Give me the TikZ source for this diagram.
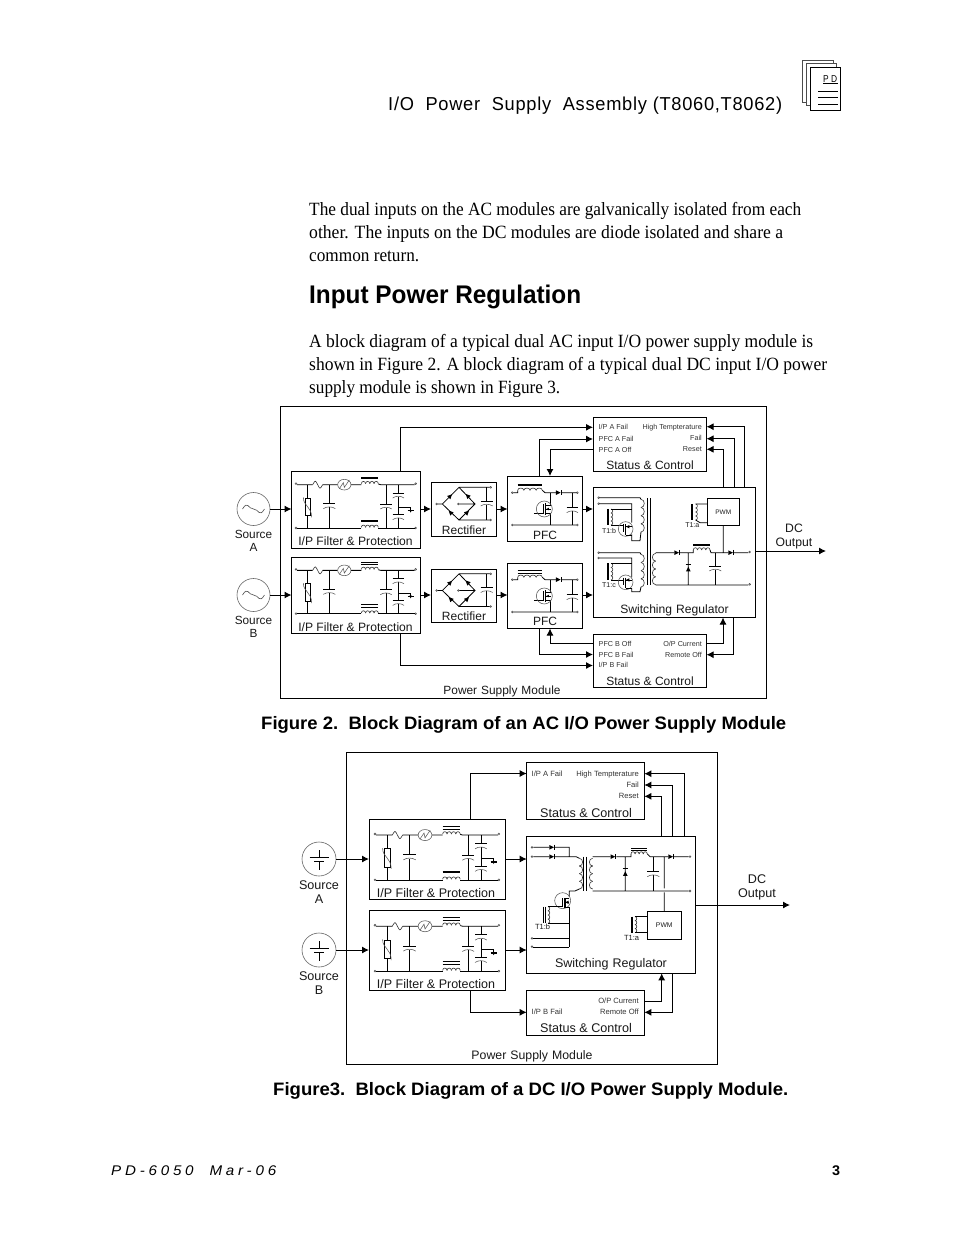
\documentclass[tikz,border=0pt]{standalone}
\usepackage{fontspec}
\usepackage{graphicx}
\setmainfont{Liberation Serif}
\newfontfamily\hv{Liberation Sans}
\usetikzlibrary{arrows.meta}
\newcommand\fs[1]{\fontsize{#1pt}{#1pt}\selectfont}
\newcommand\smsz{7.2}
% fitted line of text: name, x, baseline, width, font, text
\newcommand\tl[6]{\node[anchor=base west,inner sep=0pt] (#1) at (#2,#3) {\resizebox{#4pt}{\height}{#5#6}};}
% centred sans label: name,x,ycentre,size,text
\newcommand\lb[5]{\node[anchor=base,inner sep=0pt,text=black!90] (#1) at (#2,{#3+.36*#4}) {\hv\fs{#4}#5};}
\newcommand\lbl[4]{\node[anchor=base west,inner sep=0pt,text=black!80] (#1) at (#2,{#3+2.5}) {\hv\fs{\smsz}#4};}
\newcommand\lbr[4]{\node[anchor=base east,inner sep=0pt,text=black!80] (#1) at (#2,{#3+2.5}) {\hv\fs{\smsz}#4};}
\newcommand\bx[5]{\node[box,minimum width={(#4-#2)*1pt},minimum height={(#5-#3)*1pt}] (#1) at ({(#2+#4)/2},{(#3+#5)/2}) {};}
% components (coordinates in zoomed units)
\newcommand\term[2]{\draw[termline] (#1,#2) circle[radius=2.8];}
\newcommand\hcoil[5]{\foreach \i in {1,...,#5}{\draw[coilline] ({#1+(\i-1)*#3},#2) .. controls ({#1+(\i-1)*#3},{#2+#4}) and ({#1+\i*#3},{#2+#4}) .. ({#1+\i*#3},#2);}}
\newcommand\vcoil[5]{\foreach \i in {1,...,#5}{\draw[coilline] (#1,{#2+(\i-1)*#3}) .. controls ({#1+#4},{#2+(\i-1)*#3}) and ({#1+#4},{#2+\i*#3}) .. (#1,{#2+\i*#3});}}
\newcommand\tri[4]{\fill[black] ({#1+#3},{#2+#4}) -- ({#1-#3-#4},{#2-#4+#3}) -- ({#1-#3+#4},{#2-#4-#3}) -- cycle;}
\newcommand\capv[5]{\draw[wire] (#1,#2) -- (#1,#3) (#1-#5,#3) -- (#1+#5,#3) (#1,#3+11) -- (#1,#4);
  \draw[gline] (#1-#5,#3+15) .. controls (#1-#5/2,#3+8) and (#1+#5/2,#3+8) .. (#1+#5,#3+15);}
\newcommand\corebar[4]{\ifnum#4=1 \draw[line width=1.7pt] (#1,#3) -- (#2,#3);\else \draw[line width=.7pt] (#1,#3-5) -- (#2,#3-5) (#1,#3+2) -- (#2,#3+2);\fi}
\newcommand\hdiode[2]{\tri{#1+7}{#2}{7}{0}\draw[wire] (#1+15,#2-8) -- (#1+15,#2+8);}
\newcommand\udiode[2]{\tri{#1}{#2}{0}{-7}\draw[wire] (#1-8,#2-15) -- (#1+8,#2-15);}
% filter circuit: origin x, y, scale, top bar kind, bottom bar kind
\newcommand\filterckt[5]{\begin{scope}[shift={(#1,#2)},x=#3pt,y=-#3pt]
 \term{18}{47}\term{18}{180}\term{377}{47}\term{377}{180}
 \draw[wire] (21,50) -- (68,50) (98,50) -- (143,50) (183,50) -- (214,50) (265,48) -- (272,50) -- (374,50);
 \draw[coilline] (68,50) .. controls (76,36) and (76,36) .. (83,50) .. controls (90,64) and (90,64) .. (98,50);
 \draw[gline] (163,50) ellipse[x radius=20,y radius=16];
 \draw[gline] (148,62) -- (160,44) -- (163,58) -- (178,36);
 \hcoil{214}{47}{12.75}{-9}{4}
 \corebar{214}{265}{30}{#4}
 \draw[wire] (21,180) -- (214,180) (265,180) -- (374,180);
 \hcoil{214}{178}{12.75}{-9}{4}
 \corebar{214}{265}{158}{#5}
 \draw[wire] (53,50) -- (53,90) (53,143) -- (53,180);
 \draw[wire,line width=.9pt] (45,90) rectangle (62,143);
 \draw[gline] (40,88) .. controls (40,115) and (65,115) .. (65,148);
 \capv{118}{50}{107}{180}{18}
 \capv{288}{50}{108}{180}{17}
 \capv{325}{50}{75}{140}{17}
 \capv{325}{140}{140}{180}{17}
 \draw[wire] (325,118) -- (362,118) -- (362,128);
 \draw[line width=1.5pt] (353,128) -- (371,128);
 \tri{362}{130}{0}{4}
\end{scope}}
\newcommand\rectckt[2]{\begin{scope}[shift={(#1,#2)},x=.3333pt,y=-.3333pt]
 \term{35}{282}\term{100}{282}\term{197}{232}\term{197}{330}
 \draw[wire] (38,282) -- (52,282) (52,282) -- (102,232) -- (150,282) -- (102,330) -- (52,282) (103,282) -- (150,282) (102,232) -- (194,232) (102,330) -- (194,330);
 \capv{185}{232}{273}{330}{18}
 \tri{76}{258}{5}{-5}\tri{127}{257}{-5}{-5}\tri{76}{307}{-5}{-5}\tri{127}{307}{5}{-5}
\end{scope}}
% PFC circuit
\newcommand\pfcckt[3]{\begin{scope}[shift={(#1,#2)},x=.3333pt,y=-.3333pt]
 \term{262}{248}\term{262}{345}\term{457}{248}\term{457}{345}
 \draw[wire] (265,248) -- (278,248) -- (278,241) (352,241) -- (360,248) -- (393,248) (410,248) -- (454,248) (265,345) -- (454,345);
 \hcoil{278}{241}{18.5}{-9}{4}
 \corebar{278}{352}{226}{#3}
 \hdiode{393}{248}
 \draw[wire] (377,248) -- (377,285) -- (362,285) (362,310) -- (377,310) -- (377,345) (327,310) -- (355,310) -- (355,282);
 \draw[gline] (358,297) circle[radius=24];
 \draw[line width=1.2pt] (362,280) -- (362,315);
 \draw[wire] (362,297) -- (377,297);
 \tri{368}{297}{-4}{0}
 \capv{442}{248}{293}{345}{17}
\end{scope}}
\newcommand\mos[2]{\draw[gline] (#1,#2) circle[radius=22];
 \draw[line width=1.2pt] (#1,#2-14) -- (#1,#2+18);
 \draw[wire] (#1-6,#2-14) -- (#1-6,#2+8) (#1,#2-7) -- (#1+20,#2-7) (#1,#2+18) -- (#1+20,#2+18);
 \tri{#1+6}{#2-7}{-5}{0}}
\tikzset{
 box/.style={draw=black,line width=.85pt,inner sep=0pt,outer sep=0pt},
 wire/.style={line width=.8pt,black},
 coilline/.style={line width=.6pt,black!80},
 gline/.style={line width=.55pt,black!65},
 termline/.style={line width=.5pt,black!70},
 conn/.style={line width=1pt,black,-{Latex[length=7pt,width=7pt]}}
}
\begin{document}
\begin{tikzpicture}[x=1pt,y=-1pt]
\useasboundingbox[fill=white] (0,0) rectangle (954,1235);
% ----- header
\tl{hd}{388}{110}{394}{\hv\fs{18.7}\addfontfeature{LetterSpace=4}}{I/O\ \ Power\ \ Supply\ \ Assembly (T8060,T8062)}
\begin{scope}
 \draw[line width=.5pt,black!70,fill=white] (802,60) rectangle (833,102);
 \draw[line width=.6pt,black!70,fill=white] (806,63) rectangle (836,105);
 \draw[line width=.8pt,black,fill=white] (810,67) rectangle (840,110);
 \draw[line width=.9pt] (823,83.5) -- (838,83.5);
 \draw[line width=1pt] (818,91.5) -- (838,91.5) (818,97.5) -- (838,97.5) (818,104) -- (838,104);
 \draw[line width=1pt] (810,67.5) -- (840,67.5);
\end{scope}
\tl{pd}{823}{82}{14}{\hv\fs{10}}{P D}
% ----- body text
\tl{p1a}{309}{215}{492}{\fs{18.7}}{The dual inputs on the AC modules are galvanically isolated from each}
\tl{p1b}{309}{238}{474}{\fs{18.7}}{other. The inputs on the DC modules are diode isolated and share a}
\tl{p1c}{309}{261}{110}{\fs{18.7}}{common return.}
\tl{hh}{309}{303}{272}{\hv\bfseries\fs{25.5}}{Input Power Regulation}
\tl{p2a}{309}{347}{504}{\fs{18.7}}{A block diagram of a typical dual AC input I/O power supply module is}
\tl{p2b}{309}{370}{518}{\fs{18.7}}{shown in Figure 2. A block diagram of a typical dual DC input I/O power}
\tl{p2c}{309}{393}{251}{\fs{18.7}}{supply module is shown in Figure 3.}
% ===== Figure 2
\bx{mod2}{280}{406}{766}{698}
\bx{fa}{291.5}{471}{420.5}{548}
\bx{fb}{291.5}{557.5}{420.5}{633.5}
\bx{ra}{431}{482.5}{496.5}{536}
\bx{rb}{431}{569}{496.5}{622.5}
\bx{pa}{507.5}{476}{582.5}{541}
\bx{pb}{507.5}{563.5}{582.5}{628.5}
\bx{sw}{593}{487.5}{755.5}{617.5}
\bx{sa}{593}{417.5}{706.5}{471.5}
\bx{sb}{593}{634}{706.5}{687}
\bx{pwma}{707.3}{498.3}{739.3}{525.7}
\node[draw=black!60,line width=.6pt,circle,minimum size=33pt,inner sep=0pt] (srca) at (253.5,509) {};
\node[draw=black!60,line width=.6pt,circle,minimum size=33pt,inner sep=0pt] (srcb) at (253.5,595) {};
\foreach \n in {srca,srcb}{\draw[line width=.6pt,black!70] ([xshift=-11pt]\n.center) .. controls +(5.5,-9) and +(-5.5,0) .. (\n.center) .. controls +(5.5,0) and +(-5.5,9) .. ([xshift=11pt]\n.center);}
\lb{sa1}{253.5}{534}{11.8}{Source}\lb{sa2}{253.5}{547}{11.8}{A}
\lb{sb1}{253.5}{620}{11.8}{Source}\lb{sb2}{253.5}{633}{11.8}{B}
\filterckt{290}{468}{.3333}{1}{1}
\filterckt{290}{553.7}{.3333}{2}{2}
\lb{fal}{355.5}{541}{12.1}{I/P Filter \& Protection}
\lb{fbl}{355.5}{627}{12.1}{I/P Filter \& Protection}
\rectckt{425}{410}\rectckt{425}{496.5}
\lb{ral}{464}{530}{12}{Rectifier}\lb{rbl}{464}{616}{12}{Rectifier}
\pfcckt{425}{410}{1}\pfcckt{425}{497}{2}
\lb{pal}{545}{535}{12}{PFC}\lb{pbl}{545}{621}{12}{PFC}
\lbl{a1}{598.5}{427}{I/P A Fail}\lbl{a2}{598.5}{438.5}{PFC A Fail}\lbl{a3}{598.5}{449.5}{PFC A Off}
\lbr{a4}{702}{426.5}{High Tempterature}\lbr{a5}{702}{437.5}{Fail}\lbr{a6}{702}{448.5}{Reset}
\lb{sal}{650}{465}{12}{Status \& Control}
\lbl{b1}{598.5}{643.5}{PFC B Off}\lbl{b2}{598.5}{654.5}{PFC B Fail}\lbl{b3}{598.5}{665}{I/P B Fail}
\lbr{b4}{702}{643.5}{O/P Current}\lbr{b5}{702}{654.5}{Remote Off}
\lb{sbl}{650}{681}{12}{Status \& Control}
\lb{swl}{674.5}{609}{12.1}{Switching\,\,Regulator}
\lb{pml}{502}{690}{11.9}{Power\,\,Supply\,\,Module}
\lb{dc1}{794}{528}{12.2}{DC}\lb{dc2}{794}{542}{12.2}{Output}
% switching regulator fig 2
\begin{scope}[shift={(585,410)},x=.3333pt,y=-.3333pt]
 \term{41}{263}\term{41}{281}\term{41}{428}\term{41}{444}
 \draw[wire] (44,263) -- (165,263) -- (168,268) (44,281) -- (140,281) -- (140,338);
 \vcoil{168}{268}{24.5}{13}{4}
 \draw[wire] (168,366) -- (165,392) -- (140,392) -- (140,373);
 \draw[wire] (44,428) -- (165,428) -- (168,433) (44,444) -- (140,444) -- (140,502);
 \vcoil{168}{433}{24.5}{13}{4}
 \draw[wire] (168,531) -- (165,545) -- (140,545) -- (140,535);
 \draw[line width=.9pt] (186,265) -- (186,525) (197,265) -- (197,525);
 \vcoil{212}{430}{23.5}{-13}{4}
 \draw[wire] (212,428) -- (268,428) (285,428) -- (325,428) -- (325,420) (375,420) -- (378,428) -- (430,428) (447,428) -- (490,428) (212,525) -- (490,525) (310,428) -- (310,525) (415,428) -- (415,347);
 \term{494}{426}\term{494}{523}
 \hcoil{325}{420}{12.5}{-9}{4}
 \draw[line width=1.7pt] (325,405) -- (375,405);
 \hdiode{268}{428}\hdiode{430}{428}\udiode{310}{477}
 \capv{391}{428}{468}{525}{18}
 \draw[line width=1.7pt] (322,282) -- (322,330);
 \vcoil{332}{282}{12}{7}{4}
 \draw[wire] (332,282) -- (367,282) (332,330) -- (345,338) -- (367,338);
 % T1:b
 \draw[line width=1.7pt] (70,297) -- (70,345);
 \vcoil{78}{297}{12}{7}{4}
 \draw[wire] (78,297) -- (140,297) (78,345) -- (116,345) -- (116,350);
 \mos{122}{357}
 % T1:c
 \draw[line width=1.7pt] (70,460) -- (70,510);
 \vcoil{78}{460}{12.5}{7}{4}
 \draw[wire] (78,460) -- (140,460) (78,510) -- (116,510);
 \mos{122}{517}
\end{scope}
\lb{pw1}{723.3}{512}{6.5}{PWM}
\lb{t1a}{692.3}{525}{7}{T1:a}\lb{t1b}{609}{530.5}{7}{T1:b}\lb{t1c}{609}{585}{7}{T1:c}
% connectors fig 2
\coordinate (fat) at (400,471);\coordinate (fbb) at (400,633.5);
\coordinate (sa1p) at (593,427.3);\coordinate (sa2p) at (593,439);\coordinate (sa3p) at (593,449.3);
\coordinate (sb1p) at (593,643.5);\coordinate (sb2p) at (593,654.5);\coordinate (sb3p) at (593,665.5);
\coordinate (sa4p) at (706.5,426.7);\coordinate (sa5p) at (706.5,438.7);\coordinate (sa6p) at (706.5,449.3);
\coordinate (sb4p) at (706.5,643.5);\coordinate (sb5p) at (706.5,654.7);
\coordinate (pat) at (539.3,476);\coordinate (pbb) at (539.3,628.5);
\coordinate (pat2) at (550,476);\coordinate (pbb2) at (550,628.5);
\coordinate (swo) at (755.5,551);\coordinate (dco) at (826,551);
\coordinate (swt1) at (744.3,487.5);\coordinate (swt2) at (734,487.5);\coordinate (swt3) at (723.3,487.5);
\coordinate (swb1) at (723,617.5);\coordinate (swb2) at (733.3,617.5);
\draw[conn] (srca.east) -- (srca.east -| fa.west);
\draw[conn] (srcb.east) -- (srcb.east -| fb.west);
\draw[conn] (fa.east |- srca.east) -- (ra.west |- srca.east);
\draw[conn] (fb.east |- srcb.east) -- (rb.west |- srcb.east);
\draw[conn] (ra.east |- srca.east) -- (pa.west |- srca.east);
\draw[conn] (rb.east |- srcb.east) -- (pb.west |- srcb.east);
\draw[conn] (pa.east |- srca.east) -- (sw.west |- srca.east);
\draw[conn] (pb.east |- srcb.east) -- (sw.west |- srcb.east);
\draw[conn] (fat) |- (sa1p);
\draw[conn] (pat) |- (sa2p);
\draw[conn] (sa3p) -| (pat2);
\draw[conn] (sb1p) -| (pbb2);
\draw[conn] (pbb) |- (sb2p);
\draw[conn] (fbb) |- (sb3p);
\draw[conn] (swt1) |- (sa4p);
\draw[conn] (swt2) |- (sa5p);
\draw[conn] (swt3) |- (sa6p);
\draw[conn] (sb4p) -| (swb1);
\draw[conn] (swb2) |- (sb5p);
\draw[conn] (swo) -- (dco);
% ===== Figure 2 caption
\tl{c2}{261}{729}{525}{\hv\bfseries\fs{18}}{Figure 2.\ \ Block Diagram of an AC I/O Power Supply Module}
% ===== Figure 3
\renewcommand\smsz{7.6}
\bx{mod3}{346}{752}{717}{1064}
\bx{ga}{369}{819.3}{505}{899.3}
\bx{gb}{369}{910.7}{505}{990}
\bx{ta}{526.7}{762.7}{644.3}{819}
\bx{tb}{526.7}{990.7}{644.3}{1035.3}
\bx{sv}{526.7}{836.7}{695.7}{973.3}
\bx{pwmb}{647.7}{911.7}{681.3}{939.3}
\node[draw=black!60,line width=.6pt,circle,minimum size=34pt,inner sep=0pt] (bata) at (319,859) {};
\node[draw=black!60,line width=.6pt,circle,minimum size=34pt,inner sep=0pt] (batb) at (319,950) {};
\foreach \n in {bata,batb}{
 \draw[line width=.8pt] ([shift={(-9.5,-1.5)}]\n.center) -- ([shift={(9.5,-1.5)}]\n.center) ([shift={(-5,2.5)}]\n.center) -- ([shift={(5,2.5)}]\n.center);
 \draw[line width=.8pt] ([yshift=9pt]\n.center) -- ([shift={(0,-1.5)}]\n.center) ([shift={(0,2.5)}]\n.center) -- ([yshift=-11pt]\n.center);}
\lb{ta1}{319}{885}{12.6}{Source}\lb{ta2}{319}{899}{12.6}{A}
\lb{tb1}{319}{976}{12.6}{Source}\lb{tb2}{319}{990}{12.6}{B}
\filterckt{368.8}{817.8}{.345}{2}{1}
\filterckt{368.8}{909}{.345}{2}{2}
\lb{gal}{436}{893}{12.5}{I/P Filter \& Protection}
\lb{gbl}{436}{984}{12.5}{I/P Filter \& Protection}
\lbl{e1}{531.5}{773.5}{I/P A Fail}
\lbr{e2}{639}{773.5}{High Tempterature}\lbr{e3}{639}{785}{Fail}\lbr{e4}{639}{796}{Reset}
\lb{tal}{586}{813}{12.6}{Status \& Control}
\lbl{f1}{531.5}{1012.3}{I/P B Fail}
\lbr{f2}{639}{1000.5}{O/P Current}\lbr{f3}{639}{1012.3}{Remote Off}
\lb{tbl}{586}{1028}{12.6}{Status \& Control}
\lb{svl}{611}{963}{12.5}{Switching\,\,Regulator}
\lb{qml}{532}{1055}{12.3}{Power\,\,Supply\,\,Module}
\lb{ec1}{757}{879}{12.6}{DC}\lb{ec2}{757}{893}{12.6}{Output}
\lb{pw2}{664.3}{925}{6.8}{PWM}
\lb{q1a}{631.5}{938}{7.5}{T1:a}\lb{q1b}{542.5}{926.5}{7.5}{T1:b}
\begin{scope}[shift={(520,755)},x=.3333pt,y=-.3333pt]
 \term{36}{277}\term{36}{305}\term{36}{550}\term{36}{575}\term{510}{305}\term{510}{408}
 \draw[wire] (40,277) -- (88,277) (105,277) -- (148,277) -- (148,305) (40,305) -- (88,305) (105,305) -- (168,305) -- (178,310);
 \hdiode{88}{277}\hdiode{88}{305}
 \vcoil{178}{310}{23}{13}{4}
 \draw[wire] (178,402) -- (165,408) -- (148,408) -- (148,425);
 \draw[line width=.9pt] (190,305) -- (190,407) (200,305) -- (200,407);
 \vcoil{218}{310}{23}{-13}{4}
 \draw[wire] (218,305) -- (272,305) (289,305) -- (333,305) -- (333,297) (382,297) -- (390,305) -- (445,305) (462,305) -- (506,305) (218,408) -- (506,408) (316,305) -- (316,408) (433,305) -- (433,400) (433,412) -- (433,470);
 \hcoil{333}{297}{12.25}{-9}{4}
 \corebar{333}{382}{285}{2}
 \hdiode{272}{305}\hdiode{445}{305}\udiode{316}{356}
 \capv{400}{305}{350}{408}{18}
 \draw[line width=1.7pt] (335,485) -- (335,533);
 \vcoil{345}{485}{12}{7}{4}
 \draw[wire] (345,485) -- (383,485) (345,533) -- (383,533);
 % primary mosfet
 \draw[gline] (128,437) circle[radius=24];
 \draw[line width=1.2pt] (135,430) -- (135,460);
 \draw[wire] (126,430) -- (126,455) (135,430) -- (148,430) (135,442) -- (148,442) (135,458) -- (148,458) -- (148,577) (40,550) -- (148,550) (40,577) -- (148,577);
 \tri{141}{442}{-5}{0}
 \draw[line width=.7pt] (70,455) -- (70,505) (76,455) -- (76,505);
 \vcoil{84}{455}{12.5}{7}{4}
 \draw[wire] (84,453) -- (126,453) (84,505) -- (148,505);
\end{scope}
% connectors fig 3
\coordinate (gat) at (470.7,819.3);\coordinate (gbb) at (470.7,990);
\coordinate (ta1p) at (526.7,773.5);\coordinate (tb1p) at (526.7,1012.3);
\coordinate (ta2p) at (644.3,773.7);\coordinate (ta3p) at (644.3,785);\coordinate (ta4p) at (644.3,796.3);
\coordinate (tb2p) at (644.3,1001.3);\coordinate (tb3p) at (644.3,1012.3);
\coordinate (svt1) at (684.3,836.7);\coordinate (svt2) at (672.3,836.7);\coordinate (svt3) at (661.7,836.7);
\coordinate (svb1) at (661.7,973.3);\coordinate (svb2) at (672.3,973.3);
\coordinate (svo) at (695.7,905);\coordinate (eco) at (790,905);
\draw[conn] (bata.east) -- (bata.east -| ga.west);
\draw[conn] (batb.east) -- (batb.east -| gb.west);
\draw[conn] (ga.east |- bata.east) -- (sv.west |- bata.east);
\draw[conn] (gb.east |- batb.east) -- (sv.west |- batb.east);
\draw[conn] (gat) |- (ta1p);
\draw[conn] (gbb) |- (tb1p);
\draw[conn] (svt1) |- (ta2p);
\draw[conn] (svt2) |- (ta3p);
\draw[conn] (svt3) |- (ta4p);
\draw[conn] (tb2p) -| (svb1);
\draw[conn] (svb2) |- (tb3p);
\draw[conn] (svo) -- (eco);
\tl{c3}{273}{1095}{515}{\hv\bfseries\fs{18}}{Figure3.\ \ Block Diagram of a DC I/O Power Supply Module.}
% ----- footer
\tl{ft}{111}{1175}{165}{\hv\itshape\fs{14}\addfontfeature{LetterSpace=25}}{PD-6050\ \ Mar-06}
\tl{pg}{832}{1175}{8}{\hv\bfseries\fs{14}}{3}
\end{tikzpicture}
\end{document}
